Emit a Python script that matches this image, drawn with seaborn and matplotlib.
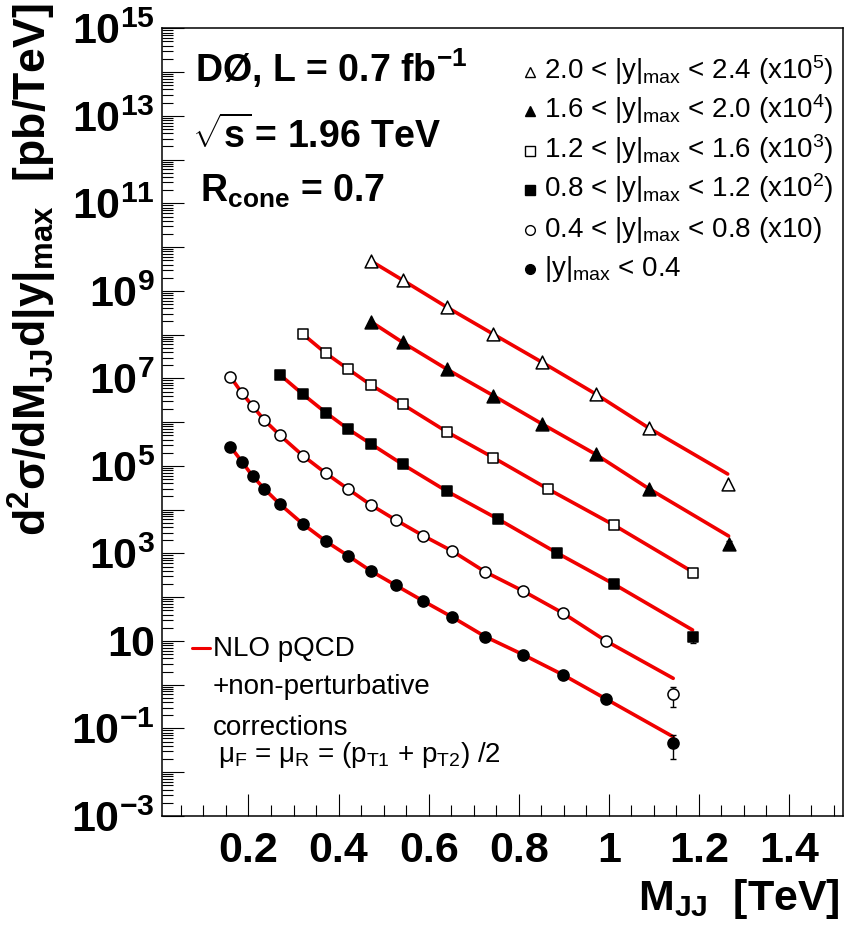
import numpy as np
import pandas as pd
import matplotlib
matplotlib.use("Agg")
import matplotlib.pyplot as plt
import seaborn as sns
from matplotlib.ticker import FixedLocator, FuncFormatter, MultipleLocator, NullFormatter

# ---------------- data ----------------
# |y|max < 0.4
m_y00 = [0.160, 0.186, 0.209, 0.235, 0.270, 0.321, 0.372, 0.422, 0.472, 0.527,
         0.588, 0.652, 0.726, 0.810, 0.899, 0.994, 1.143]
xs_y00 = [2.75e5, 1.23e5, 5.87e4, 3.01e4, 1.33e4, 4.70e3, 1.89e3, 873, 396, 187,
          81.8, 35.3, 12.5, 4.85, 1.67, 0.471, 0.0458]
th_y00 = [2.75e5, 1.23e5, 5.87e4, 3.01e4, 1.33e4, 4.70e3, 1.89e3, 873, 396, 187,
          81.8, 35.3, 12.5, 4.85, 1.67, 0.471, 0.0647]
# 0.4 < |y|max < 0.8 (x10)
m_y04 = [0.160, 0.186, 0.209, 0.235, 0.270, 0.321, 0.372, 0.422, 0.472, 0.527,
         0.588, 0.652, 0.726, 0.810, 0.899, 0.994, 1.143]
xs_y04 = [1.08e7, 4.56e6, 2.34e6, 1.12e6, 5.00e5, 1.71e5, 6.78e4, 2.92e4, 1.28e4, 5.81e3,
          2.54e3, 1.14e3, 377, 138, 42.8, 9.98, 0.614]
th_y04 = [1.08e7, 4.56e6, 2.34e6, 1.12e6, 5.00e5, 1.71e5, 6.78e4, 2.92e4, 1.28e4, 5.81e3,
          2.54e3, 1.14e3, 377, 138, 42.8, 9.98, 1.40]
# 0.8 < |y|max < 1.2 (x10^2)
m_y08 = [0.270, 0.321, 0.372, 0.422, 0.472, 0.542, 0.641, 0.755, 0.884, 1.011, 1.186]
xs_y08 = [1.21e7, 4.32e6, 1.64e6, 6.87e5, 3.17e5, 1.09e5, 2.63e4, 6.03e3, 1.04e3, 200, 12.3]
th_y08 = [1.21e7, 4.32e6, 1.64e6, 6.87e5, 3.17e5, 1.09e5, 2.63e4, 6.03e3, 1.04e3, 200, 17.8]
# 1.2 < |y|max < 1.6 (x10^3)
m_y12 = [0.321, 0.372, 0.422, 0.472, 0.542, 0.641, 0.744, 0.865, 1.011, 1.186]
xs_y12 = [1.02e8, 3.74e7, 1.61e7, 7.06e6, 2.56e6, 5.96e5, 1.54e5, 2.97e4, 4.47e3, 363]
th_y12 = [1.02e8, 3.74e7, 1.61e7, 7.06e6, 2.56e6, 5.96e5, 1.54e5, 2.97e4, 4.47e3, 380]
# 1.6 < |y|max < 2.0 (x10^4)
m_y16 = [0.472, 0.542, 0.641, 0.744, 0.852, 0.971, 1.090, 1.266]
xs_y16 = [1.97e8, 6.68e7, 1.61e7, 4.02e6, 9.08e5, 1.84e5, 2.97e4, 1.64e3]
th_y16 = [1.97e8, 6.68e7, 1.61e7, 4.02e6, 9.08e5, 1.84e5, 2.97e4, 2.50e3]
# 2.0 < |y|max < 2.4 (x10^5)
m_y20 = [0.472, 0.542, 0.641, 0.744, 0.852, 0.971, 1.090, 1.264]
xs_y20 = [4.81e9, 1.77e9, 4.21e8, 1.02e8, 2.33e7, 4.40e6, 7.23e5, 3.80e4]
th_y20 = [4.81e9, 1.77e9, 4.21e8, 1.02e8, 2.33e7, 4.40e6, 7.23e5, 6.53e4]

# last-point error bars (lower, upper) for the series where they are visible
err_y00 = (0.0198, 0.071)
err_y04 = (0.315, 0.90)
err_y08 = (8.8, 14.0)
err_y16 = (1.3e3, 1.9e3)

legend_labels = [
    r"2.0 < $|$y$|_{\mathrm{max}}$ < 2.4 (x10$^{5}$)",
    r"1.6 < $|$y$|_{\mathrm{max}}$ < 2.0 (x10$^{4}$)",
    r"1.2 < $|$y$|_{\mathrm{max}}$ < 1.6 (x10$^{3}$)",
    r"0.8 < $|$y$|_{\mathrm{max}}$ < 1.2 (x10$^{2}$)",
    r"0.4 < $|$y$|_{\mathrm{max}}$ < 0.8 (x10)",
    r"$|$y$|_{\mathrm{max}}$ < 0.4",
]
x_major = [0.2, 0.4, 0.6, 0.8, 1.0, 1.2, 1.4]
x_major_labels = ["0.2", "0.4", "0.6", "0.8", "1", "1.2", "1.4"]

# ---------------- style ----------------
sns.set_theme(style="ticks")
plt.rcParams["font.family"] = ["Liberation Sans", "DejaVu Sans"]
plt.rcParams["mathtext.fontset"] = "custom"
plt.rcParams["mathtext.rm"] = "Liberation Sans"
plt.rcParams["mathtext.it"] = "Liberation Sans:italic"
plt.rcParams["mathtext.bf"] = "Liberation Sans:bold"
plt.rcParams["mathtext.default"] = "regular"
for k in ["text.color", "axes.labelcolor", "xtick.color", "ytick.color", "axes.edgecolor"]:
    plt.rcParams[k] = "black"

W, H = 853, 932
fig = plt.figure(figsize=(W / 100, H / 100), dpi=100)
ax_l, ax_r, ax_t, ax_b = 162, 843, 28.3, 816
ax = fig.add_axes([ax_l / W, (H - ax_b) / H, (ax_r - ax_l) / W, (ax_b - ax_t) / H])

RED = "#f00000"
series = [
    ("y20", m_y20, xs_y20, th_y20, "^", False),
    ("y16", m_y16, xs_y16, th_y16, "^", True),
    ("y12", m_y12, xs_y12, th_y12, "s", False),
    ("y08", m_y08, xs_y08, th_y08, "s", True),
    ("y04", m_y04, xs_y04, th_y04, "o", False),
    ("y00", m_y00, xs_y00, th_y00, "o", True),
]
msize = {"o": 64, "s": 56, "^": 85}

for name, m, xs, th, mk, filled in series:
    df = pd.DataFrame({"M": m, "xs": xs, "th": th})
    sns.lineplot(data=df, x="M", y="th", color=RED, lw=2.6, ax=ax,
                 estimator=None, sort=False, zorder=2)
    sns.scatterplot(data=df, x="M", y="xs", marker=mk, s=msize[mk],
                    color="black" if filled else "white",
                    edgecolor="black", linewidth=1.1, ax=ax, zorder=4)

for m, xs, err in [(m_y00, xs_y00, err_y00), (m_y04, xs_y04, err_y04),
                   (m_y08, xs_y08, err_y08), (m_y16, xs_y16, err_y16)]:
    lo, hi = err
    ax.errorbar([m[-1]], [xs[-1]], yerr=[[xs[-1] - lo], [hi - xs[-1]]],
                fmt="none", ecolor="black", elinewidth=1.0, capsize=2.5,
                capthick=1.0, zorder=3)

# ---------------- axes ----------------
ax.set_yscale("log")
ax.set_xlim(0.008, 1.52)
ax.set_ylim(1e-3, 1e15)
ax.set_xlabel("")
ax.set_ylabel("")

ax.xaxis.set_major_locator(FixedLocator(x_major))
ax.xaxis.set_major_formatter(FuncFormatter(
    lambda v, p: x_major_labels[x_major.index(round(v, 1))] if round(v, 1) in x_major else ""))
ax.xaxis.set_minor_locator(MultipleLocator(0.05))

ax.yaxis.set_major_locator(FixedLocator([10.0 ** e for e in range(-3, 16)]))
def yfmt(v, p):
    e = int(round(np.log10(v)))
    if e % 2 == 0:
        return ""
    if e == 1:
        return r"$\mathbf{10}$"
    return r"$\mathbf{10^{%d}}$" % e
ax.yaxis.set_major_formatter(FuncFormatter(yfmt))
ax.yaxis.set_minor_locator(FixedLocator(
    [k * 10.0 ** e for e in range(-3, 15) for k in range(2, 10)]))
ax.yaxis.set_minor_formatter(NullFormatter())

for side in ["left", "right", "top", "bottom"]:
    ax.spines[side].set_visible(True)
    ax.spines[side].set_linewidth(1.1)
    ax.spines[side].set_color("black")

ax.tick_params(axis="both", which="both", direction="in", top=False, right=False,
               color="black", width=0.8)
ax.tick_params(axis="both", which="major", length=15.5)
ax.tick_params(axis="both", which="minor", length=7.8)
ax.tick_params(axis="x", which="major", pad=11, labelsize=31)
ax.tick_params(axis="y", which="major", pad=5, labelsize=31)
for lab in ax.get_xticklabels():
    lab.set_fontweight("bold")

# axis titles
fig.text(32 / W, 1 - 3 / H,
         r"$\mathbf{d^{2}}$σ$\mathbf{/dM_{JJ}d|y|_{max}}$  [pb/TeV]",
         rotation=90, ha="center", va="top", fontsize=32, fontweight="bold")
fig.text(840 / W, 1 - 910 / H, r"$\mathbf{M_{JJ}}$  [TeV]",
         ha="right", va="baseline", fontsize=31, fontweight="bold")

# top-left annotations
def axfrac(px, py):
    return ((px - ax_l) / (ax_r - ax_l), (ax_b - py) / (ax_b - ax_t))

TL = 27
ax.text(*axfrac(195, 82), r"DØ, L = 0.7 fb$\mathbf{^{-1}}$", transform=ax.transAxes,
        fontsize=TL, fontweight="bold", va="baseline", ha="left")
ax.text(*axfrac(192, 148), r"$\sqrt{\mathbf{s}}\,$= 1.96 TeV", transform=ax.transAxes,
        fontsize=TL, fontweight="bold", va="baseline", ha="left")
ax.text(*axfrac(200, 202), r"R$\mathbf{_{cone}}$ = 0.7", transform=ax.transAxes,
        fontsize=TL, fontweight="bold", va="baseline", ha="left")

# legend (upper right), manual rows
FS = 20
leg_markers = [("^", False), ("^", True), ("s", False), ("s", True), ("o", False), ("o", True)]
base_y = [79, 118.4, 157.8, 197.2, 236.6, 276]
for (mk, filled), lab, by in zip(leg_markers, legend_labels, base_y):
    ax.plot(*axfrac(530, by - 7), marker=mk, ms=7 if mk != "^" else 7.5,
            mfc="black" if filled else "white", mec="black", mew=1.0,
            transform=ax.transAxes, clip_on=False, zorder=5)
    ax.text(*axfrac(544, by), lab, transform=ax.transAxes, fontsize=FS,
            va="baseline", ha="left")

# NLO legend (lower left)
x0, y0 = axfrac(192, 648)
x1, _ = axfrac(210, 648)
ax.plot([x0, x1], [y0, y0], color=RED, lw=2.2, transform=ax.transAxes)
ax.text(*axfrac(213, 656), "NLO pQCD", transform=ax.transAxes, fontsize=FS,
        va="baseline", ha="left")
ax.text(*axfrac(213, 694), "+non-perturbative", transform=ax.transAxes, fontsize=FS,
        va="baseline", ha="left")
ax.text(*axfrac(213, 735), "corrections", transform=ax.transAxes, fontsize=FS,
        va="baseline", ha="left")
ax.text(*axfrac(218, 762), r"μ$_{F}$ = μ$_{R}$ = (p$_{T1}$ + p$_{T2}$) /2",
        transform=ax.transAxes, fontsize=FS, va="baseline", ha="left")

fig.savefig("out.png", dpi=100)
